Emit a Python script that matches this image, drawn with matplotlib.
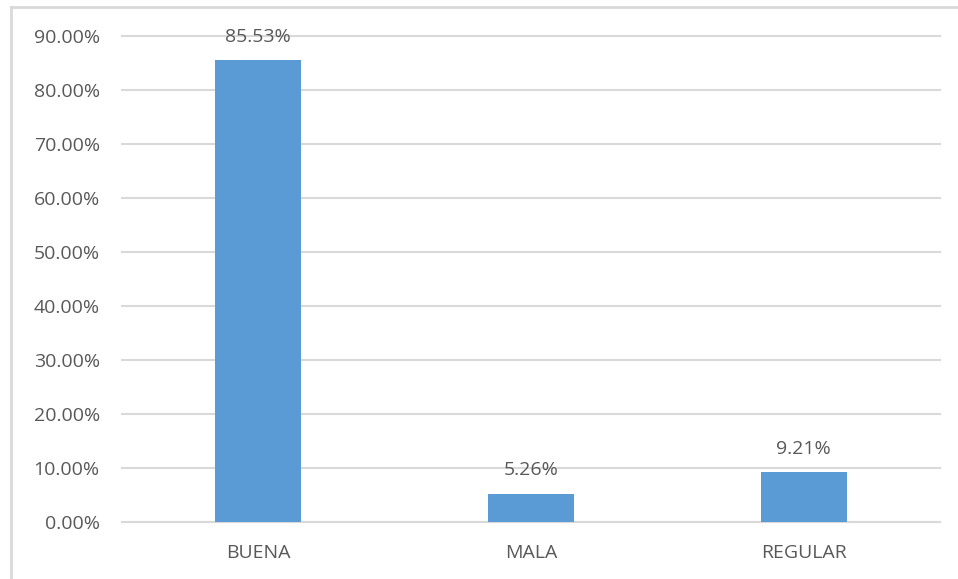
import matplotlib
matplotlib.use("Agg")
import matplotlib.pyplot as plt
from matplotlib.lines import Line2D
from matplotlib.ticker import PercentFormatter

categories = ["BUENA", "MALA", "REGULAR"]
shares = [0.8553, 0.0526, 0.0921]
y_ticks = [0.0, 0.1, 0.2, 0.3, 0.4, 0.5, 0.6, 0.7, 0.8, 0.9]

TEXT = "#595959"
GRID = "#D9D9D9"
BAR = "#5B9BD5"

plt.rcParams["font.family"] = ["Open Sans", "DejaVu Sans"]

fig = plt.figure(figsize=(9.58, 5.79), dpi=100)
ax = fig.add_axes([122 / 958, 1 - 522 / 579, 818 / 958, 486 / 579])

x = range(len(categories))
bars = ax.bar(x, shares, width=0.315, color=BAR, zorder=3)
for rect, v in zip(bars, shares):
    ax.annotate(f"{v * 100:.2f}%", (rect.get_x() + rect.get_width() / 2, v),
                xytext=(0, 10.5), textcoords="offset points",
                ha="center", va="bottom", fontsize=14, color=TEXT)

ax.set_xlim(-0.5, 2.5)
ax.set_ylim(0, 0.9)
ax.set_xticks(list(x))
ax.set_xticklabels(categories)
ax.set_yticks(y_ticks)
ax.yaxis.set_major_formatter(PercentFormatter(1.0, decimals=2))
ax.tick_params(length=0, labelsize=14, colors=TEXT)
ax.tick_params(axis="y", pad=16)
ax.tick_params(axis="x", pad=16)
ax.grid(axis="y", color=GRID, lw=1.5, zorder=0)
for gl in ax.get_ygridlines():
    gl.set_clip_on(False)
for side in ("top", "right", "left"):
    ax.spines[side].set_visible(False)
ax.spines["bottom"].set_color(GRID)
ax.spines["bottom"].set_linewidth(1.5)

# chart frame: left and top edges
fig.add_artist(Line2D([10.5 / 958, 10.5 / 958], [0, 1 - 7 / 579],
                      color=GRID, lw=2, transform=fig.transFigure))
fig.add_artist(Line2D([10.5 / 958, 1], [1 - 7 / 579, 1 - 7 / 579],
                      color=GRID, lw=2, transform=fig.transFigure))

fig.savefig("out.png", dpi=100)
